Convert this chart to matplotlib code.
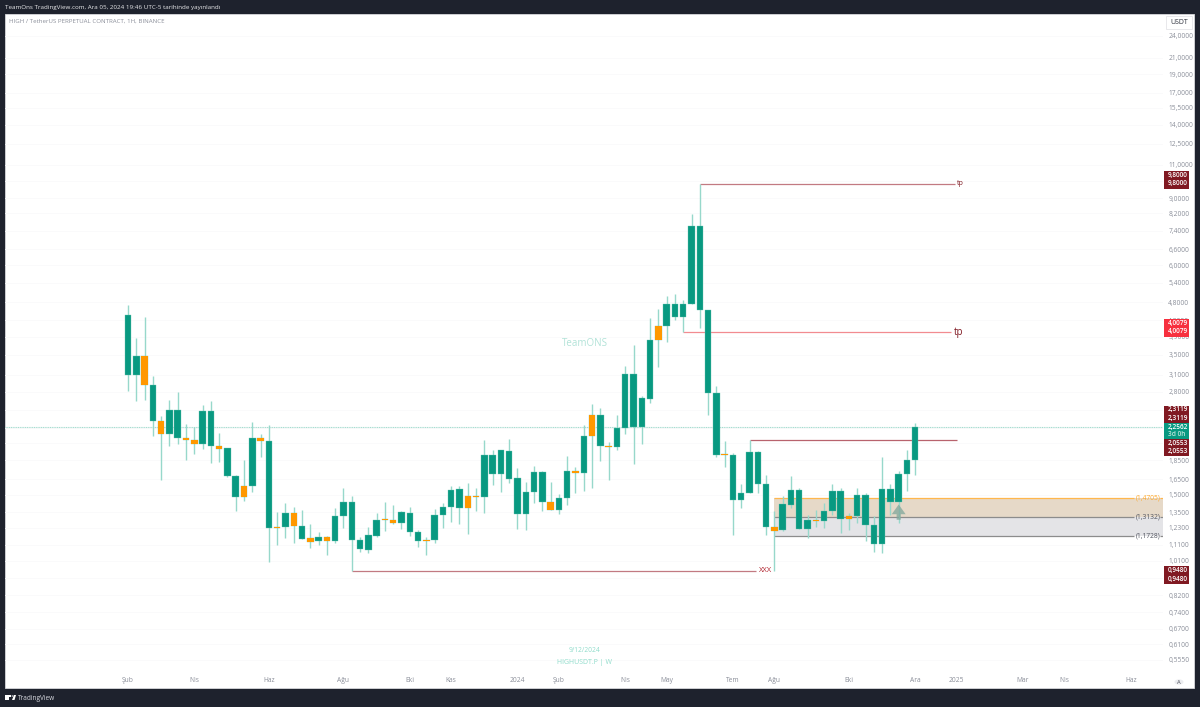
import matplotlib
matplotlib.use('Agg')
import matplotlib.pyplot as plt
import numpy as np
from matplotlib.patches import Rectangle, Circle, Polygon

plt.rcParams['font.family'] = ['Open Sans', 'DejaVu Sans']

# weekly candles
wick_high = [4.72, 3.876, 4.382, 3.082, 2.415, 2.655, 2.787, 2.303, 2.261, 2.577,
             2.638, 2.180, 1.995, 1.692, 1.849, 2.335, 2.162, 2.289, 1.351, 1.429,
             1.392, 1.370, 1.259, 1.197, 1.169, 1.384, 1.562, 1.492, 1.167, 1.236,
             1.343, 1.438, 1.415, 1.361, 1.392, 1.214, 1.167, 1.379, 1.426, 1.583,
             1.580, 1.611, 1.562, 2.086, 1.963, 1.967, 2.107, 1.763, 1.620, 1.791,
             1.737, 1.620, 1.509, 1.898, 1.779, 2.284, 2.597, 2.530, 2.061, 2.436,
             3.260, 3.703, 2.733, 4.366, 4.608, 4.997, 5.043, 4.859, 8.160, 9.800,
             4.571, 2.901, 2.082, 1.928, 1.603, 2.086, 1.959, 1.692, 1.362, 1.494,
             1.678, 1.562, 1.332, 1.370, 1.429, 1.598, 1.562, 1.343, 1.565, 1.515,
             1.321, 1.882, 1.605, 1.730, 1.967, 2.3119]
body_top = [4.435, 3.477, 3.477, 2.919, 2.345, 2.500, 2.500, 2.115, 2.094, 2.485,
            2.485, 2.011, 1.987, 1.678, 1.580, 2.120, 2.120, 2.073, 1.236, 1.343,
            1.343, 1.244, 1.154, 1.164, 1.164, 1.318, 1.441, 1.441, 1.141, 1.175,
            1.293, 1.295, 1.293, 1.350, 1.343, 1.202, 1.145, 1.332, 1.395, 1.549,
            1.552, 1.494, 1.494, 1.905, 1.905, 1.963, 1.955, 1.658, 1.527, 1.726,
            1.726, 1.438, 1.470, 1.737, 1.733, 2.140, 2.426, 2.426, 2.015, 2.253,
            3.113, 3.113, 2.689, 3.814, 4.167, 4.748, 4.748, 4.748, 7.620, 7.620,
            4.571, 2.771, 1.920, 1.909, 1.521, 1.943, 1.943, 1.605, 1.236, 1.418,
            1.549, 1.549, 1.293, 1.293, 1.361, 1.534, 1.534, 1.324, 1.497, 1.497,
            1.254, 1.552, 1.552, 1.702, 1.856, 2.2562]
body_bottom = [3.101, 3.101, 2.919, 2.345, 2.171, 2.171, 2.111, 2.090, 2.036, 2.036,
               2.011, 1.983, 1.678, 1.485, 1.485, 1.583, 2.073, 1.229, 1.229, 1.236,
               1.247, 1.152, 1.132, 1.136, 1.138, 1.138, 1.318, 1.143, 1.081, 1.079,
               1.173, 1.290, 1.264, 1.264, 1.202, 1.136, 1.138, 1.145, 1.332, 1.395,
               1.387, 1.387, 1.485, 1.485, 1.702, 1.702, 1.655, 1.335, 1.335, 1.524,
               1.435, 1.373, 1.373, 1.470, 1.716, 1.712, 2.136, 2.011, 1.999, 1.999,
               2.253, 2.267, 2.267, 2.684, 3.814, 4.167, 4.382, 4.382, 4.748, 4.571,
               2.771, 1.913, 1.913, 1.452, 1.452, 1.521, 1.605, 1.239, 1.209, 1.211,
               1.415, 1.221, 1.221, 1.280, 1.280, 1.361, 1.301, 1.301, 1.324, 1.251,
               1.113, 1.113, 1.435, 1.435, 1.699, 1.856]
wick_low = [2.816, 2.645, 2.660, 2.140, 1.642, 2.019, 2.044, 1.856, 1.920, 1.983,
            1.822, 1.833, 1.675, 1.365, 1.450, 1.524, 1.886, 1.003, 1.109, 1.157,
            1.122, 1.148, 1.092, 1.107, 1.042, 1.125, 1.231, 0.948, 1.060, 1.056,
            1.167, 1.209, 1.259, 1.219, 1.173, 1.095, 1.044, 1.120, 1.229, 1.274,
            1.256, 1.187, 1.362, 1.346, 1.595, 1.524, 1.614, 1.224, 1.216, 1.429,
            1.359, 1.370, 1.335, 1.415, 1.521, 1.537, 1.562, 1.838, 1.638, 1.971,
            2.163, 1.812, 2.040, 2.620, 3.238, 3.785, 4.313, 4.008, 4.748, 4.116,
            2.436, 1.882, 1.779, 1.181, 1.390, 1.515, 1.515, 1.179, 0.948, 1.209,
            1.390, 1.219, 1.159, 1.236, 1.229, 1.332, 1.192, 1.216, 1.269, 1.138,
            1.064, 1.056, 1.326, 1.267, 1.534, 1.696]
orange_candles = [2, 4, 7, 8, 11, 14, 16, 18, 20, 22, 24, 31, 32, 36, 41, 42, 51, 54,
                  56, 58, 64, 72, 78, 83, 87]

price_ticks = [24, 21, 19, 17, 15.5, 14, 12.5, 11, 10, 9, 8.2, 7.4, 6.6, 6, 5.4, 4.8,
               4.3, 3.9, 3.5, 3.1, 2.8, 2.5, 2.25, 2.05, 1.85, 1.65, 1.5, 1.35, 1.23,
               1.11, 1.01, 0.91, 0.82, 0.74, 0.67, 0.61, 0.555]
hidden_ticks = [10, 2.5, 2.25, 2.05, 0.91]
time_ticks = [0, 8, 17, 26, 34, 39, 47, 52, 60, 65, 73, 78, 87, 95, 100, 108, 113, 121]
time_labels = ['Şub', 'Nis', 'Haz', 'Ağu', 'Eki', 'Kas', '2024', 'Şub', 'Nis', 'May',
               'Tem', 'Ağu', 'Eki', 'Ara', '2025', 'Mar', 'Nis', 'Haz']

last_price = 2.2562
tp_high = 9.80
tp_mid = 4.0079
res_line = 2.086
xxx_low = 0.948
zone_top = 1.4705
zone_mid = 1.3132
zone_low = 1.1728

W, H = 1200, 707
BG = '#1E222D'
GREEN = '#089981'
ORANGE = '#FF9800'
WICK = '#97D8CB'
DARKRED = '#801922'


def fx(x):
    return x / W


def fy(y):
    return 1 - y / H


def bar_of(x):
    # pixel column -> candle index
    return (x - 128) / 8.287


def price_of(y):
    # pixel row -> price, from the 9.80 and 0.948 levels
    return 0.948 * np.exp((571 - y) / 165.7)


fig = plt.figure(figsize=(W / 100, H / 100), dpi=100, facecolor=BG)
fig.add_artist(Rectangle((fx(5), fy(688)), (1194 - 5) / W, (688 - 14) / H, transform=fig.transFigure,
                         facecolor='white', edgecolor='#D8D8DC', lw=0.6, zorder=-1))

ax = fig.add_axes([fx(5), fy(672), (1163 - 5) / W, (672 - 14) / H])
ax.patch.set_alpha(0)
ax.set_yscale('log')
ax.set_xlim(bar_of(5), bar_of(1163))
ax.set_ylim(price_of(672), price_of(14))
for s in ax.spines.values():
    s.set_visible(False)

ax.yaxis.tick_right()
ax.set_yticks(price_ticks)
ax.set_yticklabels(['' if p in hidden_ticks else f'{p:.4f}'.replace('.', ',') for p in price_ticks])
ax.minorticks_off()
ax.tick_params(axis='y', length=0, pad=3.8, labelsize=4.8, labelcolor='#8A8E99')
ax.set_xticks(time_ticks)
ax.set_xticklabels(time_labels)
ax.tick_params(axis='x', length=0, pad=3.6, labelsize=4.8, labelcolor='#8A8E99')
ax.grid(axis='y', color='#FAFAFB', lw=0.6)
ax.set_axisbelow(True)

# zones first so the candles sit on top
x_zone = bar_of(1163)
ax.fill_between([78, x_zone], zone_mid, zone_top, color='#E6D9C8', lw=0, zorder=1)
ax.fill_between([78, x_zone], zone_low, zone_mid, color='#E4E4E7', lw=0, zorder=1)
gap_l, gap_r = bar_of(1134), bar_of(1160)
for level, col in [(zone_top, '#FFB74D'), (zone_mid, '#8C8C8C'), (zone_low, '#8C8C8C')]:
    ax.hlines(level, 78, gap_l, color=col, lw=0.9, zorder=1.5)
    ax.hlines(level, gap_r, x_zone, color=col, lw=0.9, zorder=1.5)
ax.text(bar_of(1148), zone_top, '(1,4705)', color='#FFA726', fontsize=4.8, ha='center', va='center')
ax.text(bar_of(1148), zone_mid, '(1,3132)', color='#50535E', fontsize=4.8, ha='center', va='center')
ax.text(bar_of(1148), zone_low, '(1,1728)', color='#50535E', fontsize=4.8, ha='center', va='center')

ax.axhline(last_price, color='#A6DCD0', lw=0.8, ls=(0, (1, 0.6)), zorder=1.5)

# level lines
ax.hlines(tp_high, 69, bar_of(955), color='#C27A82', lw=0.9, zorder=1.5)
ax.text(bar_of(960), tp_high, 'tp', color='#801922', fontsize=5, ha='center', va='center')
ax.hlines(tp_mid, 67, bar_of(951), color='#F28B90', lw=0.9, zorder=1.5)
ax.text(bar_of(959), tp_mid, 'tp', color='#801922', fontsize=7, ha='center', va='center')
ax.hlines(res_line, 75, bar_of(957), color='#B8636D', lw=0.9, zorder=1.5)
ax.hlines(xxx_low, 27, bar_of(756), color='#C27A82', lw=0.9, zorder=1.5)
ax.text(bar_of(766), xxx_low, 'XXX', color='#B22833', fontsize=5.5, ha='center', va='center')

# candles
x = np.arange(len(wick_high))
colors = [ORANGE if i in orange_candles else GREEN for i in x]
ax.vlines(x, wick_low, wick_high, color=WICK, lw=1.0, zorder=2)
ax.bar(x, np.array(body_top) - np.array(body_bottom), bottom=body_bottom, width=0.78,
       color=colors, edgecolor='#6CC4B2', linewidth=0.25, zorder=3)
for i in orange_candles:
    ax.bar(i, body_top[i] - body_bottom[i], bottom=body_bottom[i], width=0.78, color=ORANGE, lw=0, zorder=3.1)

# up arrow over the zone
ax.annotate('', xy=(93, 1.44), xytext=(93, 1.27), zorder=4,
            arrowprops=dict(arrowstyle='simple,head_length=0.7,head_width=1.0,tail_width=0.3',
                            color='#7FA79B', alpha=0.75, lw=0))

# watermark
ax.text(bar_of(584.5), price_of(344), 'TeamONS', color='#B2E3D8', fontsize=7, ha='center', va='center')
ax.text(bar_of(584.5), price_of(651), '9/12/2024', color='#8FDCCB', fontsize=4.8, ha='center', va='center')
ax.text(bar_of(584.5), price_of(663), 'HIGHUSDT.P | W', color='#8FDCCB', fontsize=5, ha='center', va='center')

# header and footer
fig.text(fx(5), fy(7), 'TeamOns TradingView.com, Ara 05, 2024 19:46 UTC-5 tarihinde yayınlandı',
         color='#E8E8EA', fontsize=4.5, va='center')
fig.text(fx(9), fy(21), 'HIGH / TetherUS PERPETUAL CONTRACT, 1H, BINANCE',
         color='#8A8E99', fontsize=4.4, va='center')
fig.text(fx(18), fy(698), 'TradingView', color='#D8DAE0', fontsize=4.7, va='center')
fig.add_artist(Rectangle((fx(5), fy(700)), 3.5 / W, 5 / H, transform=fig.transFigure, color='white', lw=0))
fig.add_artist(Rectangle((fx(5), fy(696.5)), 6 / W, 1.6 / H, transform=fig.transFigure, color='white', lw=0))
fig.add_artist(Circle((fx(12.5), fy(696)), 1 / W, transform=fig.transFigure, color='white', lw=0))
fig.add_artist(Polygon([(fx(12), fy(700)), (fx(14), fy(695)), (fx(16), fy(695)), (fx(14.5), fy(700))],
                       transform=fig.transFigure, color='white', lw=0))

fig.add_artist(Rectangle((fx(1166), fy(29)), 26 / W, 13 / H, transform=fig.transFigure,
                         facecolor='white', edgecolor='#E4E4E8', lw=0.6, zorder=5))
fig.text(fx(1179), fy(22.5), 'USDT', color='#2A2E39', fontsize=5, ha='center', va='center', zorder=6)
fig.add_artist(plt.Circle((fx(1179), fy(682)), 4.5 / W, transform=fig.transFigure, color='#ECEDF0', lw=0, zorder=5))
fig.text(fx(1179), fy(682), 'A', color='#50535E', fontsize=4.2, ha='center', va='center', zorder=6)

# price tags on the right scale
tags = [(171, 189, DARKRED, '9,8000', '9,8000', 175.5, 184),
        (319, 337, '#F7303F', '4,0079', '4,0079', 323.5, 332),
        (406, 423, DARKRED, '2,3119', '2,3119', 410, 418.5),
        (423, 439, GREEN, '2,2562', '3d 0h', 427, 434.5),
        (439, 456, DARKRED, '2,0553', '2,0553', 443, 451.5),
        (566, 584, DARKRED, '0,9480', '0,9480', 570.5, 579)]
for top, bottom, col, t1, t2, y1, y2 in tags:
    fig.add_artist(Rectangle((fx(1164), fy(bottom)), 25 / W, (bottom - top) / H,
                             transform=fig.transFigure, color=col, lw=0, zorder=5))
    fig.text(fx(1167.5), fy(y1), t1, color='white', fontsize=4.7, fontweight='semibold', va='center', zorder=6)
    fig.text(fx(1167.5), fy(y2), t2, color='white' if t2 != '3d 0h' else '#BFE6DD',
             fontsize=4.7, fontweight='semibold', va='center', zorder=6)

fig.savefig('out.png', dpi=100, facecolor=BG)
